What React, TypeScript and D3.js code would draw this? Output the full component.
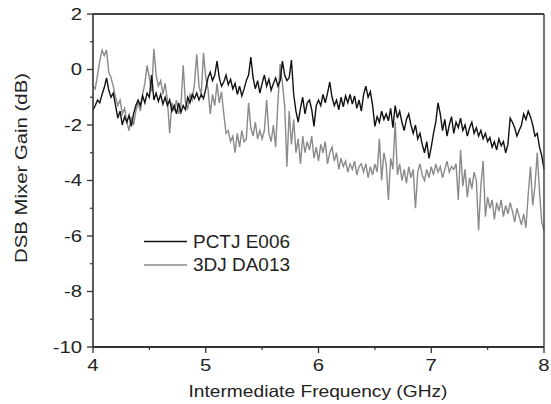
import React from "react";
import * as d3 from "d3";

// frequency grid, GHz (0.02 GHz steps)
const freqStart = 4;
const freqStep = 0.02;

// PCTJ E006 gain, dB
const pctjGain = [
  -1.46, -1.3, -1.1, -1.2, -0.9,
  -0.65, -0.3, -0.75, -1.0, -0.85,
  -1.3, -1.75, -1.5, -2.0, -1.7,
  -1.9, -1.65, -2.05, -1.6, -1.3,
  -1.1, -1.3, -0.95, -1.2, -0.85,
  -1.0, -0.2, -1.1, -0.85, -1.15,
  -0.9, -1.25, -1.0, -1.3, -1.1,
  -1.5, -1.3, -1.6, -1.2, -1.55,
  -1.3, -1.45, -1.0, -1.2, -0.9,
  -1.05, -0.85, -1.1, -0.9, -1.05,
  -0.7, -0.3, -0.1, -0.4, -0.2,
  0.3, -0.3, -0.6, -0.45, -0.2,
  -0.55, -0.35, -0.7, -0.5, -0.9,
  -0.6, -0.95, -0.7, -0.4, -0.2,
  0.45, -0.3, -0.7, -0.4, -0.85,
  -0.5, -0.2, -0.6, -0.35, -0.75,
  -0.5, -0.3, -0.6, -0.4, 0.3,
  -0.2, -0.4, -0.3, 0.34, -0.9,
  -1.5, -1.9, -1.4, -1.0, -1.6,
  -1.2, -1.1, -1.45, -2.05, -1.3,
  -1.1, -1.3, -0.9, -1.2, -0.85,
  -0.45, -1.0, -1.3, -1.1, -1.45,
  -1.0, -1.35, -0.95, -1.2, -0.9,
  -1.25, -0.95, -1.4, -1.1, -1.5,
  -0.9, -0.6, -1.0, -0.8, -1.3,
  -2.05, -1.7, -1.9, -1.5, -1.8,
  -1.6, -1.85, -1.4, -2.1, -1.3,
  -1.75, -1.5, -1.9, -2.2, -1.8,
  -1.6, -2.0, -2.3, -2.0, -2.5,
  -2.3, -2.7, -3.0, -2.6, -3.2,
  -2.8, -2.3, -1.9, -1.2, -1.6,
  -2.2, -1.8, -2.4, -2.0, -1.7,
  -2.3, -1.9, -2.1, -1.75, -2.2,
  -2.0, -2.4, -2.1, -1.9, -2.3,
  -2.1, -2.4, -2.2, -2.5, -2.3,
  -2.6, -2.45, -2.8, -2.6, -2.9,
  -2.5, -2.75, -2.6, -3.0, -2.7,
  -1.75, -1.9, -2.1, -2.4, -2.2,
  -2.0, -1.6, -1.8, -1.5, -1.7,
  -2.0, -2.4, -2.3, -2.8, -3.1,
  -3.6,
];

// 3DJ DA013 gain, dB
const djGain = [
  -0.6, -0.7, -0.2, 0.3, 0.7,
  0.5, 0.7, -0.1, -0.3, -0.6,
  -1.0, -1.3, -1.1, -1.6, -1.4,
  -1.9, -2.2, -1.7, -2.0, -1.5,
  -1.2, -1.5, -0.9, -0.5, 0.15,
  -0.3, -0.8, 0.75, -0.2, -0.6,
  -0.4, -0.9, -0.5, -1.1, -2.3,
  -1.2, -1.5, -1.1, -1.6, -1.3,
  0.15, -1.2, -1.4, -0.9, -1.1,
  -0.5, 0.55, -0.6, -0.9, 0.6,
  -0.3, -0.7, -1.6, -0.9, -1.3,
  -0.5, -1.2, -0.8, -1.6, -2.3,
  -2.2, -2.6, -2.4, -3.0, -2.3,
  -2.8, -2.2, -2.6, -2.5, -1.2,
  -2.1, -2.4, -1.9, -2.5, -2.2,
  -2.5, -2.2, -1.1, -2.3, -2.6,
  -2.0, -2.8, -1.2, 0.2, -0.5,
  -1.3, -3.5, -1.5, -2.7, -1.8,
  -3.0, -2.5, -3.4, -2.4, -3.0,
  -2.6, -2.9, -2.4, -3.2, -2.8,
  -3.3, -2.7, -3.0, -2.6, -3.4,
  -3.0, -2.8, -3.3, -3.0, -3.6,
  -3.2, -3.5, -3.3, -3.7, -3.4,
  -3.6, -3.3, -3.8, -3.5, -3.4,
  -3.7, -3.4, -3.9, -3.5, -3.8,
  -3.4, -3.7, -2.5, -4.0, -3.0,
  -3.4, -4.7, -3.2, -3.6, -1.9,
  -3.8, -3.4, -4.0, -3.6, -4.1,
  -3.5, -3.9, -3.6, -5.0, -3.7,
  -3.4, -3.8, -4.0, -3.6, -3.9,
  -3.5, -3.8, -3.4, -3.7, -3.5,
  -3.9, -3.6, -3.3, -3.7, -3.5,
  -3.6, -3.4, -4.7, -2.9, -4.2,
  -3.6, -4.6, -3.9, -4.3, -3.7,
  -4.0, -5.8, -4.2, -3.3, -5.3,
  -4.6, -5.0, -4.7, -5.4, -4.8,
  -5.1, -4.7, -5.3, -4.9, -5.2,
  -4.8, -5.1, -5.5, -5.0, -5.3,
  -5.6, -5.2, -5.7, -4.5, -3.5,
  -4.9, -4.2, -3.0, -4.4, -5.5,
  -5.8,
];

const xTicks = [4, 5, 6, 7, 8];
const xMinorTicks = [4.5, 5.5, 6.5, 7.5];
const yTicks = [2, 0, -2, -4, -6, -8, -10];
const yMinorTicks = [1, -1, -3, -5, -7, -9];

const legendItems = [
  { label: "PCTJ E006", color: "#111" },
  { label: "3DJ DA013", color: "#8a8a8a" },
];

const W = 551;
const H = 404;
const m = { left: 93, right: 7, top: 14, bottom: 57 };
const font = "'Liberation Sans', Arial, sans-serif";
const stretch = 1.23; // the original lettering is a bit wide

export default function App() {
  const x = d3.scaleLinear().domain([4, 8]).range([m.left, W - m.right]);
  const y = d3.scaleLinear().domain([-10, 2]).range([H - m.bottom, m.top]);

  const line = d3
    .line<number>()
    .x((_, i) => x(freqStart + i * freqStep))
    .y((d) => y(d));

  const x0 = x(4);
  const x1 = x(8);
  const y0 = y(-10);
  const y1 = y(2);

  return (
    <svg
      width={W}
      height={H}
      style={{ position: "absolute", left: 0, top: 0, background: "#fff" }}
      fontFamily={font}
    >
      <path d={line(djGain) ?? ""} fill="none" stroke="#8a8a8a" strokeWidth={1.4} />
      <path d={line(pctjGain) ?? ""} fill="none" stroke="#111" strokeWidth={1.4} />

      {/* frame */}
      <line x1={x0} x2={x1} y1={y1} y2={y1} stroke="#444" strokeWidth={2} />
      <line x1={x1} x2={x1} y1={y1} y2={y0} stroke="#444" strokeWidth={1.5} />
      <line x1={x0} x2={x0} y1={y1} y2={y0} stroke="#333" strokeWidth={1.6} />
      <line x1={x0} x2={x1} y1={y0} y2={y0} stroke="#333" strokeWidth={1.8} />

      {/* y ticks */}
      {yTicks.map((t) => (
        <g key={"y" + t}>
          <line x1={x0 - 6} x2={x0} y1={y(t)} y2={y(t)} stroke="#333" strokeWidth={1.3} />
          <text
            transform={`translate(${x0 - 11} ${y(t)}) scale(${stretch} 1)`}
            dy="0.36em"
            textAnchor="end"
            fontSize={16.5}
            fill="#222"
          >
            {t}
          </text>
        </g>
      ))}
      {yMinorTicks.map((t) => (
        <line key={"ym" + t} x1={x0 - 3} x2={x0} y1={y(t)} y2={y(t)} stroke="#333" strokeWidth={1.2} />
      ))}

      {/* x ticks */}
      {xTicks.map((t) => (
        <g key={"x" + t}>
          <line x1={x(t)} x2={x(t)} y1={y0} y2={y0 + 6} stroke="#333" strokeWidth={1.3} />
          <text
            transform={`translate(${x(t)} ${y0 + 24}) scale(${stretch} 1)`}
            textAnchor="middle"
            fontSize={16.5}
            fill="#222"
          >
            {t}
          </text>
        </g>
      ))}
      {xMinorTicks.map((t) => (
        <line key={"xm" + t} x1={x(t)} x2={x(t)} y1={y0} y2={y0 + 3} stroke="#333" strokeWidth={1.2} />
      ))}

      {/* axis titles */}
      <text
        x={318}
        y={397}
        textAnchor="middle"
        fontSize={16.5}
        fill="#222"
        textLength={259}
        lengthAdjust="spacingAndGlyphs"
      >
        Intermediate Frequency (GHz)
      </text>
      <text
        transform={`translate(27 168) rotate(-90)`}
        textAnchor="middle"
        fontSize={16.5}
        fill="#222"
        textLength={190}
        lengthAdjust="spacingAndGlyphs"
      >
        DSB Mixer Gain (dB)
      </text>

      {/* legend */}
      {legendItems.map((d, i) => (
        <g key={d.label} transform={`translate(144 ${y(-6.2) + i * 23.5})`}>
          <line x1={0} x2={43} y1={0} y2={0} stroke={d.color} strokeWidth={1.4} />
          <text
            x={49}
            y={0}
            dy="0.36em"
            fontSize={17.5}
            fill="#222"
            textLength={97}
            lengthAdjust="spacingAndGlyphs"
          >
            {d.label}
          </text>
        </g>
      ))}
    </svg>
  );
}
